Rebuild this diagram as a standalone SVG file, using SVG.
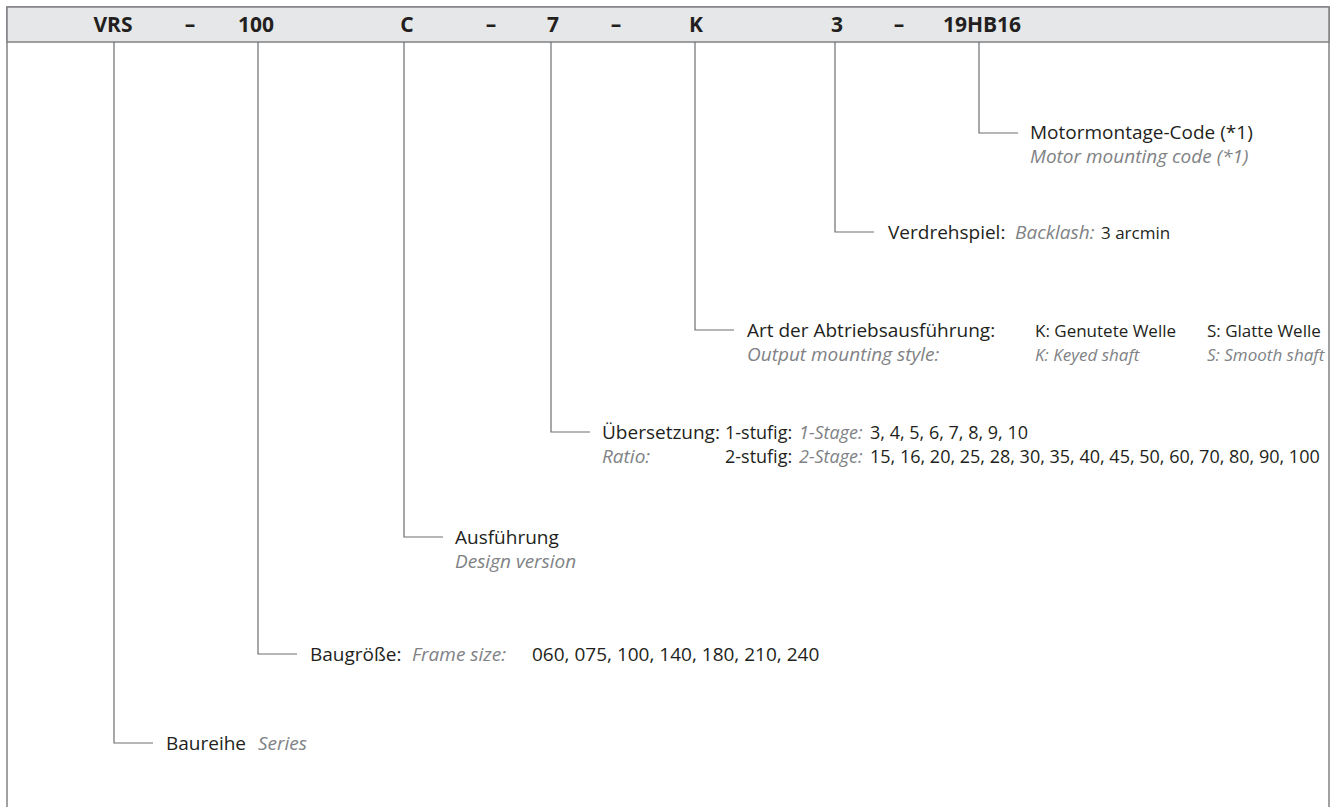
<svg xmlns="http://www.w3.org/2000/svg" width="1337" height="807" viewBox="0 0 1337 807">
<style>
.frame{fill:none;stroke:#808285;stroke-width:1.5}
.band{fill:#e6e7e8;stroke:#808285;stroke-width:1.5}
.hd{font-family:"Open Sans","Liberation Sans",sans-serif;font-weight:bold;font-size:21px;fill:#231f20;text-anchor:middle}
.c{fill:none;stroke:#6d6e71;stroke-width:1.2}
.t{font-family:"Open Sans","Liberation Sans",sans-serif;font-size:19px;fill:#231f20}
.s{font-family:"Open Sans","Liberation Sans",sans-serif;font-size:17px;fill:#231f20}
.r{font-family:"Open Sans","Liberation Sans",sans-serif;font-size:18px;fill:#231f20}
.i{font-family:"Open Sans","Liberation Sans",sans-serif;font-size:19px;font-style:italic;fill:#808285}
.si{font-family:"Open Sans","Liberation Sans",sans-serif;font-size:17px;font-style:italic;fill:#808285}
.ri{font-family:"Open Sans","Liberation Sans",sans-serif;font-size:18px;font-style:italic;fill:#808285}
</style>
<rect width="1337" height="807" fill="#ffffff"/>
<g id="frame">
<path class="frame" d="M7 807 V7 H1329 V807"/>
<rect class="band" x="7" y="7" width="1322" height="35"/>
</g>
<g id="header">
<text class="hd" x="113" y="32">VRS</text>
<text class="hd" x="190" y="32">–</text>
<text class="hd" x="256" y="32">100</text>
<text class="hd" x="407" y="32">C</text>
<text class="hd" x="491" y="32">–</text>
<text class="hd" x="553" y="32">7</text>
<text class="hd" x="616" y="32">–</text>
<text class="hd" x="696" y="32">K</text>
<text class="hd" x="837" y="32">3</text>
<text class="hd" x="899" y="32">–</text>
<text class="hd" x="982" y="32">19HB16</text>
</g>
<g id="connectors">
<path class="c" d="M979 42 V133 H1018"/>
<path class="c" d="M835 42 V232 H874"/>
<path class="c" d="M695 42 V330 H734"/>
<path class="c" d="M551 42 V432 H590"/>
<path class="c" d="M404 42 V537 H443"/>
<path class="c" d="M258 42 V654 H297"/>
<path class="c" d="M114 42 V743 H153"/>
</g>
<g id="motor">
<text class="t" x="1030" y="139">Motormontage-Code (*1)</text>
<text class="i" x="1030" y="163">Motor mounting code (*1)</text>
</g>
<g id="backlash">
<text class="t" x="888" y="239">Verdrehspiel:</text>
<text class="i" x="1015" y="239">Backlash:</text>
<text class="s" x="1101" y="239">3 arcmin</text>
</g>
<g id="output">
<text class="t" x="747" y="337">Art der Abtriebsausführung:</text>
<text class="s" x="1035" y="337">K: Genutete Welle</text>
<text class="s" x="1207" y="337">S: Glatte Welle</text>
<text class="i" x="747" y="361">Output mounting style:</text>
<text class="si" x="1035" y="361">K: Keyed shaft</text>
<text class="si" x="1207" y="361">S: Smooth shaft</text>
</g>
<g id="ratio">
<text class="t" x="602" y="439">Übersetzung:</text>
<text class="r" x="725" y="439">1-stufig:</text>
<text class="ri" x="799" y="439">1-Stage:</text>
<text class="r" x="870" y="439">3, 4, 5, 6, 7, 8, 9, 10</text>
<text class="i" x="602" y="463">Ratio:</text>
<text class="r" x="725" y="463">2-stufig:</text>
<text class="ri" x="799" y="463">2-Stage:</text>
<text class="r" x="870" y="463">15, 16, 20, 25, 28, 30, 35, 40, 45, 50, 60, 70, 80, 90, 100</text>
</g>
<g id="design">
<text class="t" x="455" y="544">Ausführung</text>
<text class="i" x="455" y="568">Design version</text>
</g>
<g id="frame-size">
<text class="t" x="310" y="661">Baugröße:</text>
<text class="i" x="412" y="661">Frame size:</text>
<text class="t" x="532" y="661">060, 075, 100, 140, 180, 210, 240</text>
</g>
<g id="series">
<text class="t" x="166" y="750">Baureihe</text>
<text class="i" x="258" y="750">Series</text>
</g>
</svg>
